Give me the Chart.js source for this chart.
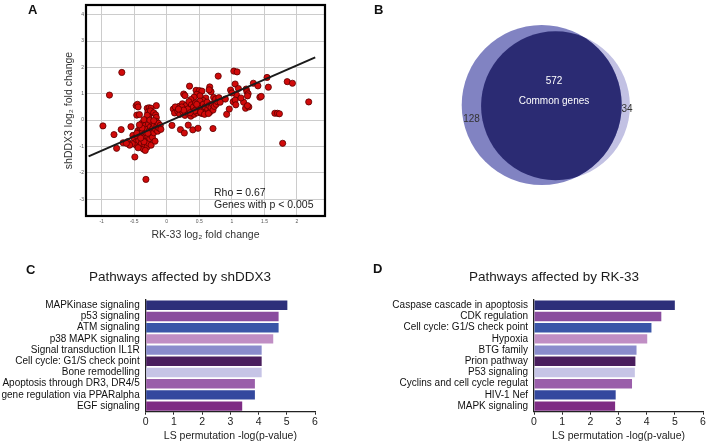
<!DOCTYPE html>
<html>
<head>
<meta charset="utf-8">
<script src="https://cdn.jsdelivr.net/npm/chart.js@4.4.1/dist/chart.umd.min.js"></script>
<style>
body { margin:0; background:#fff; }
#fig { position:relative; width:708px; height:444px; overflow:hidden; font-family: Arial, "Liberation Sans", sans-serif; }
#fig canvas { position:absolute; }
.tag { position:absolute; font-weight:bold; font-size:13px; line-height:13px; color:#111; }
</style>
</head>
<body>
<div id="fig">
  <canvas id="scatterChart" width="354" height="250" style="left:0;top:0"></canvas>
  <canvas id="vennChart" width="328" height="250" style="left:380px;top:0"></canvas>
  <canvas id="shddx3Chart" width="360" height="182" style="left:0;top:262px"></canvas>
  <canvas id="rk33Chart" width="348" height="182" style="left:360px;top:262px"></canvas>
  <div class="tag" style="left:28px;top:3px">A</div>
  <div class="tag" style="left:374px;top:3px">B</div>
  <div class="tag" style="left:26px;top:263px">C</div>
  <div class="tag" style="left:373px;top:262px">D</div>
</div>
<script>
// panel A: [RK-33 log2 FC, shDDX3 log2 FC]
const genePoints = [
  [-0.98,-0.22],[-0.88,0.95],[-0.69,1.81],[-0.7,-0.36],[-0.81,-0.55],[-0.77,-1.07],[-0.67,-0.86],
  [-0.49,-1.4],[-0.32,-2.25],[-0.6,-0.82],[-0.55,-0.25],
  [-0.47,0.55],[-0.45,0.6],[-0.44,0.5],[-0.46,0.19],[-0.42,0.21],
  [-0.3,0.45],[-0.27,0.47],[-0.24,0.45],[-0.16,0.55],[-0.29,0.3],[-0.27,0.22],[-0.28,0.12],
  [-0.25,0.35],[-0.2,0.28],[-0.17,0.2],[-0.16,0.1],[-0.3,0.18],
  [-0.52,-0.58],[-0.5,-0.7],[-0.48,-0.85],[-0.47,-0.95],[-0.45,-0.62],[-0.44,-0.4],[-0.43,-0.78],
  [-0.42,-1.0],[-0.41,-0.28],[-0.4,-0.55],[-0.39,-0.88],[-0.38,-0.12],[-0.37,-0.45],[-0.37,-0.7],
  [-0.36,-1.1],[-0.35,-0.32],[-0.34,-0.6],[-0.34,-0.92],[-0.33,-0.2],[-0.32,-0.48],[-0.31,-0.78],
  [-0.3,-1.02],[-0.3,-0.35],[-0.29,-0.62],[-0.28,-0.15],[-0.28,-0.88],[-0.27,-0.42],[-0.26,-0.7],
  [-0.25,-0.25],[-0.25,-0.55],[-0.24,-0.95],[-0.23,-0.38],[-0.22,-0.08],[-0.22,-0.65],[-0.21,-0.3],
  [-0.2,-0.48],[-0.19,-0.18],[-0.18,-0.8],[-0.17,-0.35],[-0.16,-0.05],[-0.15,-0.22],[-0.14,-0.42],
  [-0.13,-0.12],[-0.12,-0.3],[-0.1,-0.2],[-0.09,-0.35],[-0.38,-0.3],[-0.42,-0.18],[-0.46,-0.5],
  [-0.35,0.02],[-0.26,0.0],[-0.2,-0.02],[-0.44,-1.05],[-0.35,-0.82],[-0.29,-0.5],[-0.33,-1.15],
  [-0.4,-0.68],[-0.53,-0.9],[-0.57,-0.95],[-0.62,-0.88],
  [0.08,-0.2],[0.21,-0.36],[0.27,-0.49],[0.33,-0.19],[0.4,-0.37],[0.48,-0.31],[0.71,-0.32],
  [0.35,1.29],[0.26,0.99],[0.28,0.93],[0.45,1.13],[0.5,1.12],[0.54,1.1],[0.46,0.98],[0.51,0.92],
  [0.42,0.87],[0.37,0.78],[0.66,1.26],[0.68,1.08],[0.6,0.84],[0.72,0.86],[0.79,1.67],[0.65,1.15],[0.56,0.74],
  [0.1,0.42],[0.12,0.27],[0.15,0.48],[0.17,0.33],[0.19,0.52],[0.2,0.22],[0.22,0.4],[0.24,0.62],
  [0.25,0.3],[0.27,0.47],[0.28,0.18],[0.3,0.56],[0.31,0.36],[0.33,0.25],[0.34,0.7],[0.35,0.45],
  [0.37,0.15],[0.38,0.58],[0.4,0.32],[0.41,0.5],[0.42,0.22],[0.44,0.65],[0.45,0.4],[0.47,0.28],
  [0.48,0.55],[0.5,0.35],[0.51,0.72],[0.53,0.45],[0.54,0.25],[0.56,0.6],[0.57,0.38],[0.59,0.5],
  [0.6,0.28],[0.62,0.68],[0.63,0.42],[0.65,0.55],[0.66,0.3],[0.68,0.48],[0.7,0.62],[0.71,0.38],
  [0.73,0.52],[0.75,0.8],[0.76,0.6],[0.78,0.7],[0.8,0.85],[0.82,0.68],[0.13,0.5],[0.23,0.5],
  [0.32,0.42],[0.43,0.35],[0.52,0.3],[0.58,0.22],[0.64,0.25],[0.46,0.6],[0.36,0.28],[0.26,0.38],[0.18,0.42],
  [0.92,0.22],[0.96,0.42],[0.98,1.14],[1.05,1.37],[1.07,0.96],[1.02,0.7],[1.05,0.76],[1.06,0.58],
  [1.03,1.86],[1.08,1.83],[1.1,1.2],[1.0,1.03],[1.18,0.68],[1.22,1.18],[1.23,1.08],[1.25,1.0],
  [1.24,0.92],[1.21,0.45],[1.26,0.5],[1.24,0.55],[1.33,1.4],[1.4,1.3],[1.43,0.87],[1.45,0.9],
  [1.54,1.62],[1.56,1.25],[1.66,0.26],[1.7,0.26],[1.73,0.24],[1.78,-0.88],[1.85,1.46],[1.93,1.4],
  [2.18,0.69],[1.14,0.84],[0.9,0.8]
];
const fitSlope = 1.08;
const fitIntercept = -0.08;
const fitRange = [-1.2, 2.28];
const rhoText = ['Rho = 0.67', 'Genes with p < 0.005'];

// panel B
const vennLabels = ['shDDX3 only', 'Common genes', 'RK-33 only'];
const vennCounts = [128, 572, 34];

// panel C / D
const shddx3Pathways = ['MAPKinase signaling', 'p53 signaling', 'ATM signaling', 'p38 MAPK signaling',
  'Signal transduction IL1R', 'Cell cycle: G1/S check point', 'Bone remodelling',
  'Apoptosis through DR3, DR4/5', 'gene regulation via PPARalpha', 'EGF signaling'];
const shddx3Scores = [5.02, 4.71, 4.71, 4.52, 4.11, 4.11, 4.11, 3.87, 3.87, 3.42];
const rk33Pathways = ['Caspase cascade in apoptosis', 'CDK regulation', 'Cell cycle: G1/S check point',
  'Hypoxia', 'BTG family', 'Prion pathway', 'P53 signaling', 'Cyclins and cell cycle regulat',
  'HIV-1 Nef', 'MAPK signaling'];
const rk33Scores = [5.0, 4.52, 4.17, 4.02, 3.64, 3.6, 3.58, 3.48, 2.9, 2.88];

const pathwayColors = ['#2d2f7a', '#8a4c9e', '#3a56a8', '#c08ec4', '#8a8ccc',
  '#4a1e5e', '#c6c4e6', '#9a5eaa', '#34489e', '#7e2c84'];

Chart.defaults.font.family = 'Arial, "Liberation Sans", sans-serif';
Chart.defaults.animation = false;
Chart.defaults.responsive = false;
Chart.defaults.events = [];
Chart.defaults.plugins.legend.display = false;
Chart.defaults.plugins.tooltip.enabled = false;

// ---------- A: scatter ----------
const boxPlugin = {
  id: 'box',
  afterDatasetsDraw(chart) {
    const {ctx, chartArea: a} = chart;
    ctx.save();
    ctx.strokeStyle = '#000';
    ctx.lineWidth = 2.2;
    ctx.strokeRect(a.left, a.top, a.right - a.left, a.bottom - a.top);
    ctx.fillStyle = '#222';
    ctx.font = '10.5px Arial, "Liberation Sans", sans-serif';
    ctx.textBaseline = 'middle';
    ctx.fillText(rhoText[0], a.right - 111, a.bottom - 23);
    ctx.fillText(rhoText[1], a.right - 111, a.bottom - 11);
    ctx.restore();
  }
};

new Chart(document.getElementById('scatterChart').getContext('2d'), {
  type: 'scatter',
  data: {
    datasets: [{
      data: genePoints.map(p => ({x: p[0], y: p[1]})),
      backgroundColor: '#d10a0a',
      borderColor: '#5c0000',
      borderWidth: 0.8,
      pointRadius: 3.1,
      order: 1
    }, {
      data: fitRange.map(x => ({x: x, y: fitSlope * x + fitIntercept})),
      showLine: true,
      borderColor: '#1b1b1b',
      borderWidth: 2,
      pointRadius: 0,
      order: 0
    }]
  },
  options: {
    layout: {padding: {top: 2, right: 29, bottom: 0, left: 0}},
    scales: {
      x: {
        type: 'linear', min: -1.24, max: 2.43,
        ticks: {stepSize: 0.5, includeBounds: false, font: {size: 5}, color: '#555', padding: 2.5,
          callback: v => String(v)},
        grid: {color: '#cccccc', drawTicks: false},
        border: {display: false},
        title: {display: true, text: 'RK-33 log₂ fold change', font: {size: 10.5}, color: '#333',
          padding: {top: 0, bottom: 8.7}},
        afterFit: s => { s.height = 34; }
      },
      y: {
        type: 'linear', min: -3.64, max: 4.37,
        ticks: {stepSize: 1, includeBounds: false, font: {size: 5}, color: '#555', padding: 2,
          callback: v => String(v)},
        grid: {color: '#cccccc', drawTicks: false},
        border: {display: false},
        title: {display: true, text: 'shDDX3 log₂ fold change', font: {size: 10.5}, color: '#333',
          padding: {top: 63, bottom: 0}},
        afterFit: s => { s.width = 86; }
      }
    }
  },
  plugins: [boxPlugin]
});

// ---------- B: venn ----------
const setA = vennCounts[0] + vennCounts[1];
const setB = vennCounts[1] + vennCounts[2];
const radiusA = 80;
const radiusB = radiusA * Math.sqrt(setB / setA);
const vennW = 328, vennH = 250;

const vennPlugin = {
  id: 'venn',
  afterDatasetsDraw(chart) {
    const {ctx} = chart;
    const a = chart.getDatasetMeta(0).data[0];
    const b = chart.getDatasetMeta(1).data[0];
    ctx.save();
    ctx.beginPath();
    ctx.arc(a.x, a.y, radiusA, 0, Math.PI * 2);
    ctx.clip();
    ctx.beginPath();
    ctx.arc(b.x, b.y, radiusB, 0, Math.PI * 2);
    ctx.fillStyle = '#2b2b73';
    ctx.fill();
    ctx.restore();

    ctx.save();
    ctx.font = '10px Arial, "Liberation Sans", sans-serif';
    ctx.textBaseline = 'middle';
    ctx.textAlign = 'center';
    ctx.fillStyle = '#fff';
    ctx.fillText(String(vennCounts[1]), b.x - 1.5, b.y - 25);
    ctx.fillText(vennLabels[1], b.x - 1.5, b.y - 5);
    ctx.fillStyle = '#333';
    ctx.textAlign = 'left';
    ctx.fillText(String(vennCounts[0]), a.x - radiusA + 1.5, a.y + 14);
    ctx.textAlign = 'right';
    ctx.fillText(String(vennCounts[2]), b.x + radiusB + 2.7, b.y + 3.5);
    ctx.restore();
  }
};

new Chart(document.getElementById('vennChart').getContext('2d'), {
  type: 'bubble',
  data: {
    datasets: [{
      label: 'shDDX3',
      data: [{x: 161.7, y: 105, r: radiusA}],
      backgroundColor: '#8183c2',
      borderWidth: 0,
      clip: false,
      order: 1
    }, {
      label: 'RK-33',
      data: [{x: 175.5, y: 105.8, r: radiusB}],
      backgroundColor: '#c2c1e3',
      borderWidth: 0,
      clip: false,
      order: 2
    }]
  },
  options: {
    // bubbles reserve their radius on every side, so map the inner area 1:1 to pixels
    layout: {padding: radiusA},
    scales: {
      x: {type: 'linear', min: radiusA, max: vennW - radiusA, display: false},
      y: {type: 'linear', min: radiusA, max: vennH - radiusA, reverse: true, display: false}
    }
  },
  plugins: [vennPlugin]
});

// ---------- C / D: pathway bars ----------
// labels are clipped to the axis box; let the box reach the canvas edge
const labelRoom = {
  id: 'labelRoom',
  afterLayout(chart) { chart.scales.y.left = 0; }
};

const renderPathwayChart = (chartName, labels, data, title, padLeft, padRight, axisWidth) => {
  const ctx = document.getElementById(chartName).getContext('2d');
  return new Chart(ctx, {
    type: 'bar',
    data: {
      labels: labels,
      datasets: [{
        data: data,
        backgroundColor: pathwayColors,
        barPercentage: 0.84,
        categoryPercentage: 1
      }]
    },
    options: {
      indexAxis: 'y',
      layout: {padding: {left: padLeft, right: padRight, top: 0, bottom: 0}},
      plugins: {
        title: {display: true, text: title, font: {size: 13.5, weight: 'normal'}, color: '#1a1a1a',
          padding: {top: 6.9, bottom: 14.6}}
      },
      scales: {
        x: {
          min: 0, max: 6,
          ticks: {stepSize: 1, font: {size: 10.5}, color: '#222', padding: 1},
          grid: {drawOnChartArea: false, tickLength: 3, color: '#222'},
          border: {color: '#222', width: 1.3},
          title: {display: true, text: 'LS permutation -log(p-value)', font: {size: 10.5}, color: '#222',
            padding: {top: 0, bottom: 1.7}},
          afterFit: s => { s.height = 32.3; }
        },
        y: {
          ticks: {font: {size: 10}, color: '#111', padding: 6, autoSkip: false},
          grid: {display: false, drawTicks: false},
          border: {color: '#222', width: 1.3},
          afterFit: s => { s.width = axisWidth; }
        }
      }
    },
    plugins: [labelRoom]
  });
};

renderPathwayChart('shddx3Chart', shddx3Pathways, shddx3Scores, 'Pathways affected by shDDX3', 45, 45, 100.7);
renderPathwayChart('rk33Chart', rk33Pathways, rk33Scores, 'Pathways affected by RK-33', 45, 5, 129);
</script>
</body>
</html>
